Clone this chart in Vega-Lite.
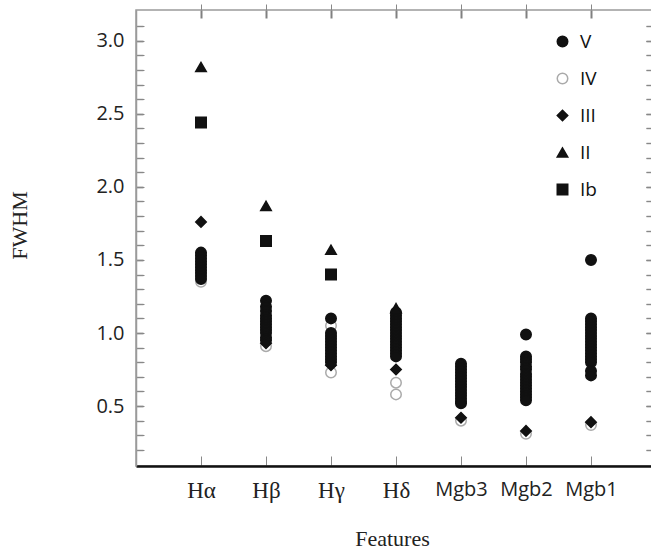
{
  "$schema": "https://vega.github.io/schema/vega-lite/v6.json",
  "autosize": {"type": "none"},
  "padding": {"left": 136, "top": 10, "right": 0, "bottom": 86},
  "width": 520,
  "height": 456,
  "background": "white",
  "config": {
    "view": {"stroke": "#9a9a9a", "strokeWidth": 1.5}
  },
  "data": {
    "values": [
      {"f": "Hα", "c": "IV", "v": 1.35},
      {"f": "Hβ", "c": "IV", "v": 0.91},
      {"f": "Hγ", "c": "IV", "v": 0.73},
      {"f": "Hγ", "c": "IV", "v": 1.05},
      {"f": "Hδ", "c": "IV", "v": 0.66},
      {"f": "Hδ", "c": "IV", "v": 0.58},
      {"f": "Mgb3", "c": "IV", "v": 0.40},
      {"f": "Mgb2", "c": "IV", "v": 0.31},
      {"f": "Mgb1", "c": "IV", "v": 0.37},
      {"f": "Hα", "c": "V", "v": 1.55},
      {"f": "Hα", "c": "V", "v": 1.53},
      {"f": "Hα", "c": "V", "v": 1.51},
      {"f": "Hα", "c": "V", "v": 1.49},
      {"f": "Hα", "c": "V", "v": 1.47},
      {"f": "Hα", "c": "V", "v": 1.45},
      {"f": "Hα", "c": "V", "v": 1.43},
      {"f": "Hα", "c": "V", "v": 1.41},
      {"f": "Hα", "c": "V", "v": 1.39},
      {"f": "Hα", "c": "V", "v": 1.37},
      {"f": "Hβ", "c": "V", "v": 1.22},
      {"f": "Hβ", "c": "V", "v": 1.18},
      {"f": "Hβ", "c": "V", "v": 1.15},
      {"f": "Hβ", "c": "V", "v": 1.12},
      {"f": "Hβ", "c": "V", "v": 1.10},
      {"f": "Hβ", "c": "V", "v": 1.08},
      {"f": "Hβ", "c": "V", "v": 1.06},
      {"f": "Hβ", "c": "V", "v": 1.04},
      {"f": "Hβ", "c": "V", "v": 1.02},
      {"f": "Hβ", "c": "V", "v": 1.00},
      {"f": "Hβ", "c": "V", "v": 0.97},
      {"f": "Hβ", "c": "V", "v": 0.95},
      {"f": "Hγ", "c": "V", "v": 1.10},
      {"f": "Hγ", "c": "V", "v": 1.00},
      {"f": "Hγ", "c": "V", "v": 0.98},
      {"f": "Hγ", "c": "V", "v": 0.96},
      {"f": "Hγ", "c": "V", "v": 0.94},
      {"f": "Hγ", "c": "V", "v": 0.92},
      {"f": "Hγ", "c": "V", "v": 0.90},
      {"f": "Hγ", "c": "V", "v": 0.88},
      {"f": "Hγ", "c": "V", "v": 0.86},
      {"f": "Hγ", "c": "V", "v": 0.84},
      {"f": "Hγ", "c": "V", "v": 0.82},
      {"f": "Hγ", "c": "V", "v": 0.80},
      {"f": "Hδ", "c": "V", "v": 1.14},
      {"f": "Hδ", "c": "V", "v": 1.12},
      {"f": "Hδ", "c": "V", "v": 1.10},
      {"f": "Hδ", "c": "V", "v": 1.08},
      {"f": "Hδ", "c": "V", "v": 1.06},
      {"f": "Hδ", "c": "V", "v": 1.04},
      {"f": "Hδ", "c": "V", "v": 1.02},
      {"f": "Hδ", "c": "V", "v": 1.00},
      {"f": "Hδ", "c": "V", "v": 0.98},
      {"f": "Hδ", "c": "V", "v": 0.96},
      {"f": "Hδ", "c": "V", "v": 0.94},
      {"f": "Hδ", "c": "V", "v": 0.92},
      {"f": "Hδ", "c": "V", "v": 0.90},
      {"f": "Hδ", "c": "V", "v": 0.88},
      {"f": "Hδ", "c": "V", "v": 0.86},
      {"f": "Hδ", "c": "V", "v": 0.84},
      {"f": "Mgb3", "c": "V", "v": 0.79},
      {"f": "Mgb3", "c": "V", "v": 0.77},
      {"f": "Mgb3", "c": "V", "v": 0.75},
      {"f": "Mgb3", "c": "V", "v": 0.73},
      {"f": "Mgb3", "c": "V", "v": 0.71},
      {"f": "Mgb3", "c": "V", "v": 0.69},
      {"f": "Mgb3", "c": "V", "v": 0.67},
      {"f": "Mgb3", "c": "V", "v": 0.65},
      {"f": "Mgb3", "c": "V", "v": 0.63},
      {"f": "Mgb3", "c": "V", "v": 0.61},
      {"f": "Mgb3", "c": "V", "v": 0.59},
      {"f": "Mgb3", "c": "V", "v": 0.57},
      {"f": "Mgb3", "c": "V", "v": 0.55},
      {"f": "Mgb3", "c": "V", "v": 0.53},
      {"f": "Mgb3", "c": "V", "v": 0.52},
      {"f": "Mgb2", "c": "V", "v": 0.99},
      {"f": "Mgb2", "c": "V", "v": 0.84},
      {"f": "Mgb2", "c": "V", "v": 0.82},
      {"f": "Mgb2", "c": "V", "v": 0.80},
      {"f": "Mgb2", "c": "V", "v": 0.77},
      {"f": "Mgb2", "c": "V", "v": 0.75},
      {"f": "Mgb2", "c": "V", "v": 0.72},
      {"f": "Mgb2", "c": "V", "v": 0.70},
      {"f": "Mgb2", "c": "V", "v": 0.68},
      {"f": "Mgb2", "c": "V", "v": 0.66},
      {"f": "Mgb2", "c": "V", "v": 0.64},
      {"f": "Mgb2", "c": "V", "v": 0.62},
      {"f": "Mgb2", "c": "V", "v": 0.60},
      {"f": "Mgb2", "c": "V", "v": 0.58},
      {"f": "Mgb2", "c": "V", "v": 0.56},
      {"f": "Mgb2", "c": "V", "v": 0.54},
      {"f": "Mgb1", "c": "V", "v": 1.50},
      {"f": "Mgb1", "c": "V", "v": 1.10},
      {"f": "Mgb1", "c": "V", "v": 1.08},
      {"f": "Mgb1", "c": "V", "v": 1.06},
      {"f": "Mgb1", "c": "V", "v": 1.04},
      {"f": "Mgb1", "c": "V", "v": 1.02},
      {"f": "Mgb1", "c": "V", "v": 1.00},
      {"f": "Mgb1", "c": "V", "v": 0.98},
      {"f": "Mgb1", "c": "V", "v": 0.96},
      {"f": "Mgb1", "c": "V", "v": 0.94},
      {"f": "Mgb1", "c": "V", "v": 0.92},
      {"f": "Mgb1", "c": "V", "v": 0.90},
      {"f": "Mgb1", "c": "V", "v": 0.88},
      {"f": "Mgb1", "c": "V", "v": 0.86},
      {"f": "Mgb1", "c": "V", "v": 0.84},
      {"f": "Mgb1", "c": "V", "v": 0.82},
      {"f": "Mgb1", "c": "V", "v": 0.80},
      {"f": "Mgb1", "c": "V", "v": 0.74},
      {"f": "Mgb1", "c": "V", "v": 0.71},
      {"f": "Hα", "c": "III", "v": 1.76},
      {"f": "Hβ", "c": "III", "v": 0.93},
      {"f": "Hγ", "c": "III", "v": 0.78},
      {"f": "Hδ", "c": "III", "v": 0.75},
      {"f": "Mgb3", "c": "III", "v": 0.42},
      {"f": "Mgb2", "c": "III", "v": 0.33},
      {"f": "Mgb1", "c": "III", "v": 0.39},
      {"f": "Hα", "c": "II", "v": 2.82},
      {"f": "Hβ", "c": "II", "v": 1.87},
      {"f": "Hγ", "c": "II", "v": 1.57},
      {"f": "Hδ", "c": "II", "v": 1.17},
      {"f": "Hα", "c": "Ib", "v": 2.44},
      {"f": "Hβ", "c": "Ib", "v": 1.63},
      {"f": "Hγ", "c": "Ib", "v": 1.40}
    ]
  },
  "layer": [
    {
      "mark": {"type": "point", "filled": true, "opacity": 1, "size": 110, "strokeWidth": 1.5},
      "encoding": {
        "x": {
          "field": "f", "type": "nominal",
          "sort": ["Hα", "Hβ", "Hγ", "Hδ", "Mgb3", "Mgb2", "Mgb1"],
          "scale": {"type": "point", "padding": 1},
          "axis": {
            "orient": "bottom",
            "grid": true,
            "gridDash": [8, 2000],
            "gridColor": "#808080",
            "gridWidth": 2,
            "gridOpacity": 1,
            "title": "Features",
            "titleFont": "Liberation Serif",
            "titleFontSize": 22,
            "titleFontWeight": "normal",
            "titleColor": "#222",
            "titleX": 256,
            "titleY": 72,
            "titleBaseline": "middle",
            "labelAngle": 0,
            "labelFont": {"condition": {"test": "test(/^Mg/, datum.value)", "value": "Open Sans"}, "value": "Liberation Serif"},
            "labelFontSize": {"condition": {"test": "test(/^Mg/, datum.value)", "value": 20}, "value": 23},
            "labelColor": "#222",
            "labelPadding": 23,
            "tickSize": -10,
            "domainColor": "#111",
            "domainWidth": 2.5
          }
        },
        "y": {
          "field": "v", "type": "quantitative",
          "scale": {"domain": [0.09, 3.21], "nice": false, "zero": false},
          "axis": {
            "orient": "left",
            "grid": true,
            "gridDash": [7, 2000],
            "gridColor": {"condition": {"test": "abs(datum.value * 2 - round(datum.value * 2)) < 0.01", "value": "#444444"}, "value": "#9a9a9a"},
            "gridWidth": 1.5,
            "gridOpacity": 1,
            "title": "FWHM",
            "titleFont": "Liberation Serif",
            "titleFontSize": 22,
            "titleFontWeight": "normal",
            "titleColor": "#222",
            "titleAngle": -90,
            "titleX": -117,
            "titleY": 215,
            "titleBaseline": "middle",
            "values": [0.2, 0.3, 0.4, 0.5, 0.6, 0.7, 0.8, 0.9, 1.0, 1.1, 1.2, 1.3, 1.4, 1.5, 1.6, 1.7, 1.8, 1.9, 2.0, 2.1, 2.2, 2.3, 2.4, 2.5, 2.6, 2.7, 2.8, 2.9, 3.0, 3.1],
            "labelExpr": "abs(datum.value * 2 - round(datum.value * 2)) < 0.01 ? format(datum.value, '.1f') : ''",
            "labelFont": "Open Sans",
            "labelFontSize": 20,
            "labelColor": "#222",
            "labelPadding": 20,
            "tickSize": -8,
            "domainColor": "#9a9a9a",
            "domainWidth": 1.5
          }
        },
        "shape": {
          "field": "c", "type": "nominal",
          "scale": {"domain": ["V", "IV", "III", "II", "Ib"], "range": ["circle", "circle", "diamond", "triangle-up", "square"]},
          "legend": {
            "orient": "none",
            "legendX": 417,
            "legendY": 22,
            "title": null,
            "padding": 0,
            "rowPadding": 17,
            "labelOffset": 8,
            "labelFont": "Open Sans",
            "labelFontSize": 19,
            "labelColor": "#111",
            "symbolSize": 110,
            "symbolStrokeWidth": 1.5,
            "symbolOpacity": 1
          }
        },
        "fill": {
          "field": "c", "type": "nominal",
          "scale": {"domain": ["V", "IV", "III", "II", "Ib"], "range": ["#111111", "transparent", "#111111", "#111111", "#111111"]}
        },
        "stroke": {
          "field": "c", "type": "nominal",
          "scale": {"domain": ["V", "IV", "III", "II", "Ib"], "range": ["#111111", "#aaaaaa", "#111111", "#111111", "#111111"]}
        }
      }
    },
    {
      "mark": {"type": "point", "opacity": 0},
      "encoding": {
        "x": {
          "field": "f", "type": "nominal",
          "sort": ["Hα", "Hβ", "Hγ", "Hδ", "Mgb3", "Mgb2", "Mgb1"],
          "axis": {"orient": "top", "grid": false, "title": null, "labels": false, "domain": false, "tickSize": 6}
        },
        "y": {
          "field": "v", "type": "quantitative",
          "axis": {
            "orient": "right", "grid": true, "title": null, "labels": false, "domain": false,
            "gridDash": [10, 2000],
            "gridColor": {"condition": {"test": "abs(datum.value * 2 - round(datum.value * 2)) < 0.01", "value": "#555555"}, "value": "#9a9a9a"},
            "gridWidth": 1.5,
            "gridOpacity": 1,
            "values": [0.2, 0.3, 0.4, 0.5, 0.6, 0.7, 0.8, 0.9, 1.0, 1.1, 1.2, 1.3, 1.4, 1.5, 1.6, 1.7, 1.8, 1.9, 2.0, 2.1, 2.2, 2.3, 2.4, 2.5, 2.6, 2.7, 2.8, 2.9, 3.0, 3.1],
            "tickSize": -10
          }
        }
      }
    }
  ],
  "resolve": {"axis": {"x": "independent", "y": "independent"}}
}
